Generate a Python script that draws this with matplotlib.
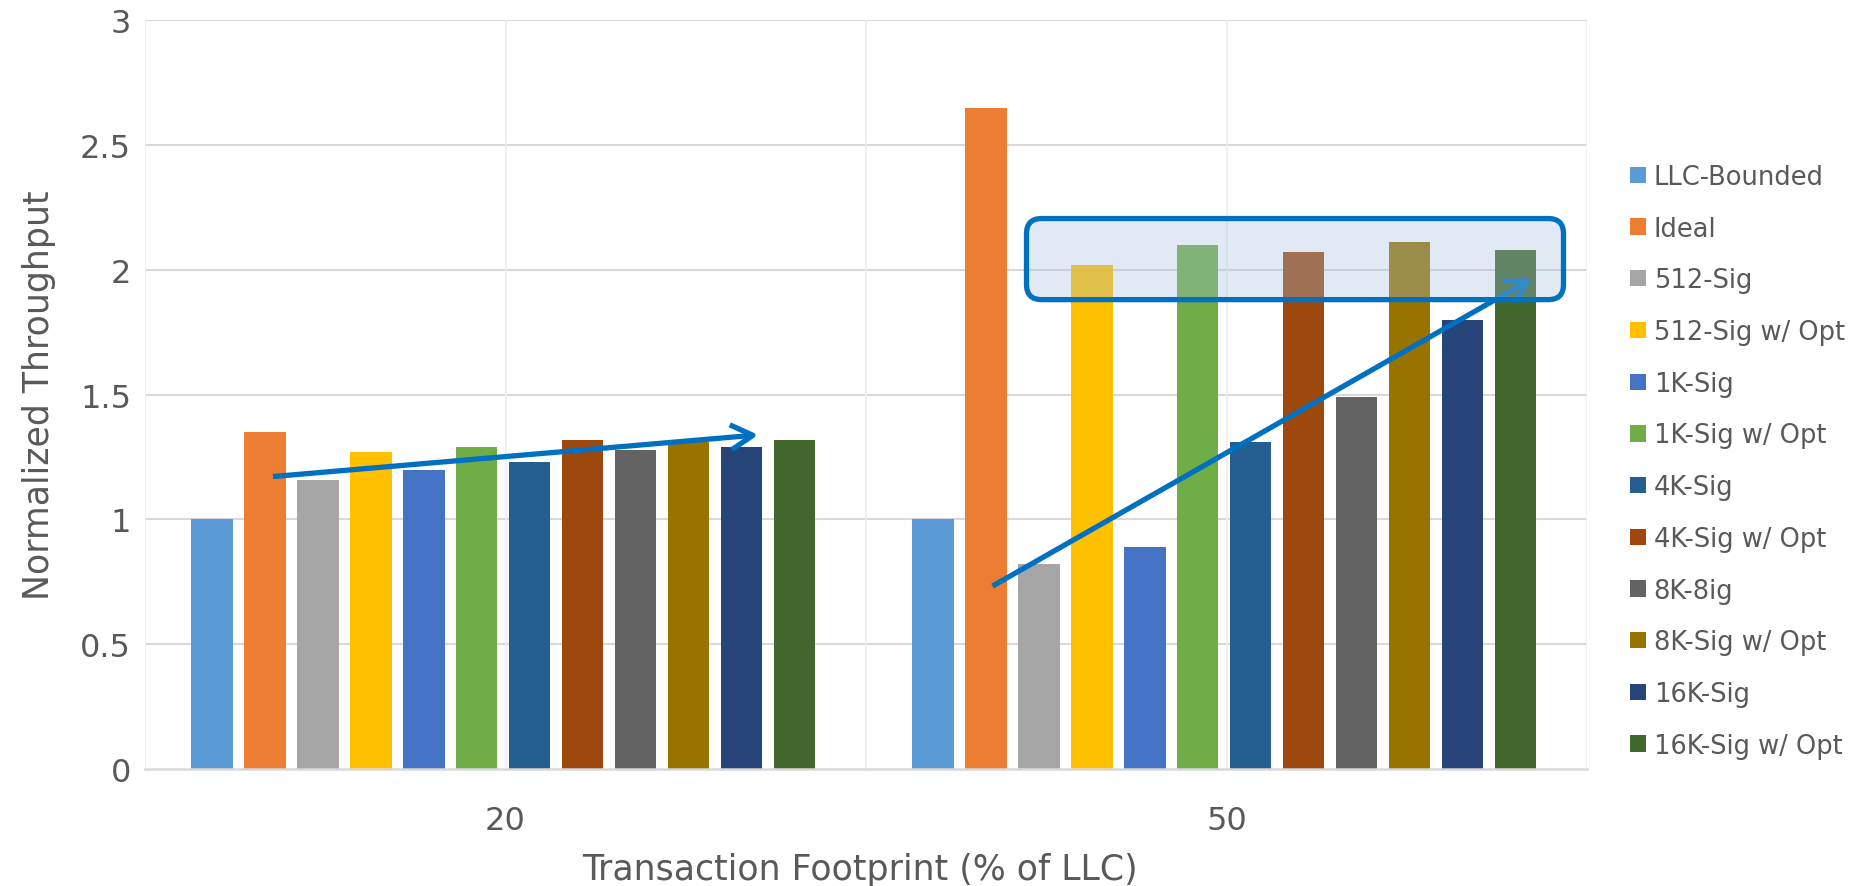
import numpy as np
import matplotlib
matplotlib.use("Agg")
import matplotlib.pyplot as plt
from matplotlib.patches import FancyBboxPatch, FancyArrowPatch, Patch

footprints = ["20", "50"]
configs = ["LLC-Bounded", "Ideal", "512-Sig", "512-Sig w/ Opt", "1K-Sig", "1K-Sig w/ Opt",
           "4K-Sig", "4K-Sig w/ Opt", "8K-8ig", "8K-Sig w/ Opt", "16K-Sig", "16K-Sig w/ Opt"]
colors = ["#5B9BD5", "#ED7D31", "#A5A5A5", "#FFC000", "#4472C4", "#70AD47",
          "#255E91", "#9E480E", "#636363", "#997300", "#264478", "#43682B"]

# normalized throughput, one list per footprint
tput_20 = [1.00, 1.35, 1.16, 1.27, 1.20, 1.29, 1.23, 1.32, 1.28, 1.31, 1.29, 1.32]
tput_50 = [1.00, 2.65, 0.82, 2.02, 0.89, 2.10, 1.31, 2.07, 1.49, 2.11, 1.80, 2.08]

text_c = "#595959"
arrow_c = "#0070C0"

fig = plt.figure(figsize=(18.63, 8.87), dpi=100)
ax = fig.add_axes([145 / 1863, 1 - 770 / 887, 1442 / 1863, 748.6 / 887])

pitch = 0.0735
width = 0.0573
x = np.arange(len(footprints))
for i, (name, col) in enumerate(zip(configs, colors)):
    vals = [tput_20[i], tput_50[i]]
    ax.bar(x + (i - 5.5) * pitch - 0.003, vals, width, color=col, label=name, zorder=2)

ax.set_xlim(-0.5, 1.5)
ax.set_ylim(0, 3)
ax.set_yticks(np.arange(0, 3.01, 0.5))
ax.set_yticklabels(["0", "0.5", "1", "1.5", "2", "2.5", "3"])
ax.set_xticks(x)
ax.set_xticklabels(footprints)
ax.tick_params(length=0, labelsize=23, colors=text_c)
ax.tick_params(axis="y", pad=10)
ax.tick_params(axis="x", pad=26)

for y in np.arange(0.5, 3.01, 0.5):
    ax.axhline(y, color="#D9D9D9", lw=1.5, zorder=0)
for xv in [-0.5, 0, 0.5, 1, 1.5]:
    ax.axvline(xv, color="#EDEDED", lw=1.2, zorder=0)
for s in ["top", "right", "left"]:
    ax.spines[s].set_visible(False)
ax.spines["bottom"].set_color("#D9D9D9")
ax.spines["bottom"].set_linewidth(1.8)

ax.set_ylabel("Normalized Throughput", fontsize=25, color=text_c)
ax.yaxis.set_label_coords(-0.062, 0.501)
ax.set_xlabel("Transaction Footprint (% of LLC)", fontsize=25, color=text_c, va="baseline")
ax.xaxis.set_label_coords(0.496, -0.147)

# trend arrows
arr = dict(arrowstyle="->,head_length=0.8,head_width=0.45", mutation_scale=20,
           color=arrow_c, lw=3.8, shrinkA=0, shrinkB=0, capstyle="butt")
ax.add_patch(FancyArrowPatch((-0.3225, 1.172), (0.3506, 1.339), zorder=4, **arr))
ax.add_patch(FancyArrowPatch((0.6755, 0.733), (1.4246, 1.966), zorder=4, **arr))

# highlight box around the optimized signatures
box = FancyBboxPatch((0.7226, 1.881), 1.4674 - 0.7226, 2.206 - 1.881,
                     boxstyle="round,pad=0,rounding_size=0.021", mutation_aspect=2.889,
                     facecolor=(164 / 255, 194 / 255, 224 / 255, 0.33),
                     edgecolor=arrow_c, lw=3.8, zorder=5)
ax.add_patch(box)

handles = [Patch(facecolor=c, label=n) for n, c in zip(configs, colors)]
fig.legend(handles=handles, loc="upper left", bbox_to_anchor=(1630 / 1863, 1 - 165 / 887),
           frameon=False, fontsize=18.5, labelcolor=text_c, borderaxespad=0, borderpad=0,
           handlelength=0.62, handleheight=0.6, handletextpad=0.3, labelspacing=1.0)

fig.savefig("out.png", dpi=100)
